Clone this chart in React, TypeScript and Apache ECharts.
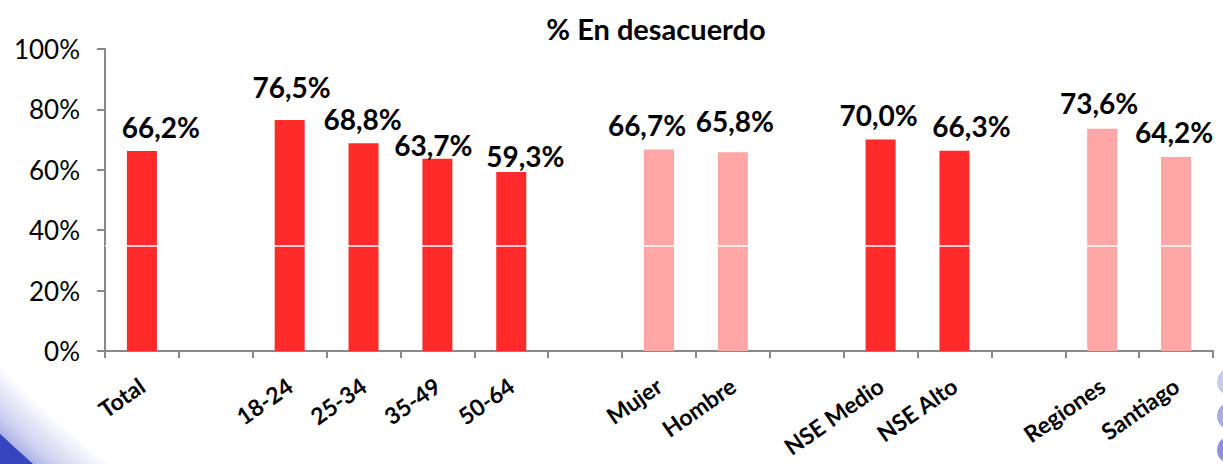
import React, { useEffect, useRef } from "react";
import * as echarts from "echarts";

const title = "% En desacuerdo";
const categories = [
  "Total", "", "18-24", "25-34", "35-49", "50-64", "",
  "Mujer", "Hombre", "", "NSE Medio", "NSE Alto", "", "Regiones", "Santiago",
];
const values: (number | null)[] = [
  66.2, null, 76.5, 68.8, 63.7, 59.3, null,
  66.7, 65.8, null, 70.0, 66.3, null, 73.6, 64.2,
];
// colour group per category: "a" = strong red, "b" = light red
const groups = ["a", "", "a", "a", "a", "a", "", "b", "b", "", "a", "a", "", "b", "b"];
const yTicks = [0, 20, 40, 60, 80, 100];
const whiteLineLevel = 35;

// label nudges (layout only)
const labelOffsets: [number, number][] = [
  [19, -5], [0, 0], [2, -14], [-1, -5], [-4, 5], [14, 3], [0, 0],
  [-12, -6], [2, -12], [0, 0], [-2, -6], [17, -6], [0, 0], [-3, -7], [-2, -6],
];

const COLORS: Record<string, string> = { a: "#ff2a2a", b: "#ffa6a6" };
const FONT = "Lato, 'Open Sans', sans-serif";

export default function App() {
  const ref = useRef<HTMLDivElement>(null);
  useEffect(() => {
    if (!ref.current) return;
    const chart = echarts.init(ref.current, null, { renderer: "svg" });
    const data = values.map((v, i) => ({
      value: v,
      itemStyle: { color: COLORS[groups[i]] || "#ff2a2a" },
      label: { offset: labelOffsets[i] },
    }));
    chart.setOption({
      animation: false,
      backgroundColor: "transparent",
      textStyle: { fontFamily: FONT },
      title: {
        text: title,
        left: 651,
        top: 9,
        textAlign: "center",
        textStyle: { fontFamily: FONT, fontWeight: "bold", fontSize: 29, color: "#000" },
      },
      graphic: [
        {
          type: "ring",
          z: -10,
          silent: true,
          shape: { cx: 700, cy: -300, r0: 965, r: 1015 },
          style: {
            fill: new echarts.graphic.RadialGradient(700, -300, 1015, [
              { offset: 0.95, color: "#ffffff" },
              { offset: 0.985, color: "#cdd1f0" },
              { offset: 1, color: "#a9afe5" },
            ], true),
          },
        },
        {
          type: "ring",
          z: -10,
          silent: true,
          shape: { cx: 700, cy: -300, r0: 1014, r: 1400 },
          style: { fill: "#3545bd" },
        },
        { type: "circle", z: -10, silent: true, shape: { cx: 1231, cy: 382, r: 14 }, style: { fill: "#c9cbee" } },
        { type: "circle", z: -10, silent: true, shape: { cx: 1231, cy: 416, r: 14 }, style: { fill: "#a6abe3" } },
        { type: "circle", z: -10, silent: true, shape: { cx: 1231, cy: 450, r: 14 }, style: { fill: "#8a90da" } },
      ],
      grid: { left: 105, right: 10, top: 49, bottom: 113, containLabel: false, outerBoundsMode: "none" },
      xAxis: {
        type: "category",
        data: categories,
        boundaryGap: true,
        axisLine: { lineStyle: { color: "#888", width: 2 } },
        axisTick: { show: true, interval: 0, length: 7, lineStyle: { color: "#888", width: 2 } },
        axisLabel: {
          interval: 0,
          rotate: 35,
          margin: 32,
          color: "#000",
          fontFamily: FONT,
          fontWeight: "bold",
          fontSize: 23,
          lineHeight: 23,
        },
      },
      yAxis: {
        type: "value",
        min: yTicks[0],
        max: yTicks[yTicks.length - 1],
        interval: 20,
        axisLine: { show: true, lineStyle: { color: "#888", width: 2 } },
        axisTick: { show: true, length: 8, lineStyle: { color: "#888", width: 2 } },
        splitLine: { show: false },
        axisLabel: {
          margin: 25,
          color: "#000",
          fontFamily: FONT,
          fontSize: 26,
          formatter: "{value}%",
        },
      },
      series: [
        {
          type: "bar",
          data,
          barWidth: 30,
          label: {
            show: true,
            position: "top",
            distance: 5,
            color: "#000",
            fontFamily: FONT,
            fontWeight: "bold",
            fontSize: 28,
            formatter: (p: any) => p.value == null ? "" : p.value.toFixed(1).replace(".", ",") + "%",
          },
          markLine: {
            silent: true,
            symbol: "none",
            label: { show: false },
            lineStyle: { color: "#ffffff", width: 1.5, type: "solid" },
            data: [{ yAxis: whiteLineLevel }],
          },
        },
      ],
    });
    return () => chart.dispose();
  }, []);
  return <div ref={ref} style={{ width: 1223, height: 464, position: "absolute", left: 0, top: 0 }} />;
}
